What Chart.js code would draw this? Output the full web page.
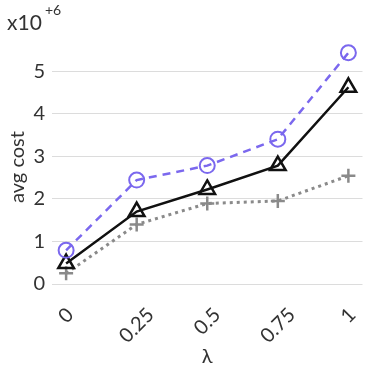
<!DOCTYPE html>
<html>
<head>
<meta charset="utf-8">
<script src="https://cdn.jsdelivr.net/npm/chart.js@4"></script>
<style>
    html, body { margin: 0; padding: 0; background: #fff; }
    #wrap { width: 374px; height: 383px; position: relative; }
</style>
</head>
<body>
<div id="wrap"><canvas id="costCanvas"></canvas></div>
<script>
const lambdas = [0, 0.25, 0.5, 0.75, 1];
const lambdaLabels = ['0', '0.25', '0.5', '0.75', '1'];
const circleCost = [0.79, 2.44, 2.78, 3.40, 5.43];
const triangleCost = [0.48, 1.70, 2.22, 2.78, 4.62];
const plusCost = [0.25, 1.40, 1.89, 1.95, 2.54];
const yTicks = [0, 1, 2, 3, 4, 5];

const canvas = document.getElementById('costCanvas');
const textColor = '#333';
const fontFamily = 'Lato, "DejaVu Sans", sans-serif';

const toPoints = (values) => lambdas.map((x, i) => ({x, y: values[i]}));

// extra text: rotated x labels, axis titles and the x10^+6 multiplier
const annotations = {
    id: 'annotations',
    afterDraw(chart) {
        const ctx = chart.ctx;
        const xScale = chart.scales.x;
        const area = chart.chartArea;
        ctx.save();
        ctx.fillStyle = textColor;

        ctx.font = '20px ' + fontFamily;
        ctx.textAlign = 'center';
        ctx.textBaseline = 'middle';
        lambdaLabels.forEach((label, i) => {
            const w = ctx.measureText(label).width;
            const box = (w + 13) / Math.SQRT2;
            const x = xScale.getPixelForValue(lambdas[i]);
            const y = area.bottom + 23 + box / 2;
            ctx.save();
            ctx.translate(x, y);
            ctx.rotate(-Math.PI / 4);
            ctx.fillText(label, 0, 0);
            ctx.restore();
        });

        // x title
        ctx.fillText('λ', (area.left + area.right) / 2, 357);

        // y title
        ctx.save();
        ctx.translate(18, 167);
        ctx.rotate(-Math.PI / 2);
        ctx.fillText('avg cost', 0, 0);
        ctx.restore();

        // multiplier
        ctx.textAlign = 'left';
        ctx.textBaseline = 'alphabetic';
        ctx.font = '21px ' + fontFamily;
        ctx.fillText('x10', 7, 30);
        ctx.font = '14px ' + fontFamily;
        ctx.fillText('+6', 45, 15);
        ctx.restore();
    }
};

const data = {
    datasets: [
        {
            label: 'circle',
            data: toPoints(circleCost),
            borderColor: '#7b68ee',
            backgroundColor: 'rgba(0,0,0,0)',
            borderWidth: 2.5,
            borderDash: [8, 6],
            pointStyle: 'circle',
            pointRadius: 7.5,
            pointBorderWidth: 2,
            pointBorderColor: '#7b68ee'
        },
        {
            label: 'triangle',
            data: toPoints(triangleCost),
            borderColor: '#111',
            backgroundColor: 'rgba(0,0,0,0)',
            borderWidth: 2.5,
            pointStyle: 'triangle',
            pointRadius: 9,
            pointBorderWidth: 2.5,
            pointBorderColor: '#111'
        },
        {
            label: 'plus',
            data: toPoints(plusCost),
            borderColor: '#8a8a8a',
            backgroundColor: 'rgba(0,0,0,0)',
            borderWidth: 3,
            borderDash: [3, 4],
            pointStyle: 'cross',
            pointRadius: 7,
            pointBorderWidth: 2.5,
            pointBorderColor: '#8a8a8a'
        }
    ]
};

const config = {
    type: 'line',
    data,
    plugins: [annotations],
    options: {
        responsive: true,
        maintainAspectRatio: false,
        animation: false,
        layout: {padding: {top: 37, right: 6, left: 0, bottom: 0}},
        plugins: {legend: {display: false}, tooltip: {enabled: false}},
        scales: {
            x: {
                type: 'linear',
                min: -0.05,
                max: 1.05,
                grid: {display: false},
                border: {display: false},
                ticks: {display: false},
                afterFit: (scale) => { scale.height = 99; }
            },
            y: {
                min: 0,
                max: 5.8,
                grid: {color: '#dcdcdc', lineWidth: 1, drawTicks: false},
                border: {display: false},
                afterBuildTicks: (scale) => {
                    scale.ticks = yTicks.map((v) => ({value: v}));
                },
                ticks: {
                    color: textColor,
                    padding: 7,
                    font: {family: fontFamily, size: 20}
                },
                afterFit: (scale) => { scale.width = 52; }
            }
        }
    }
};

const costChart = new Chart(canvas, config);
</script>
</body>
</html>
